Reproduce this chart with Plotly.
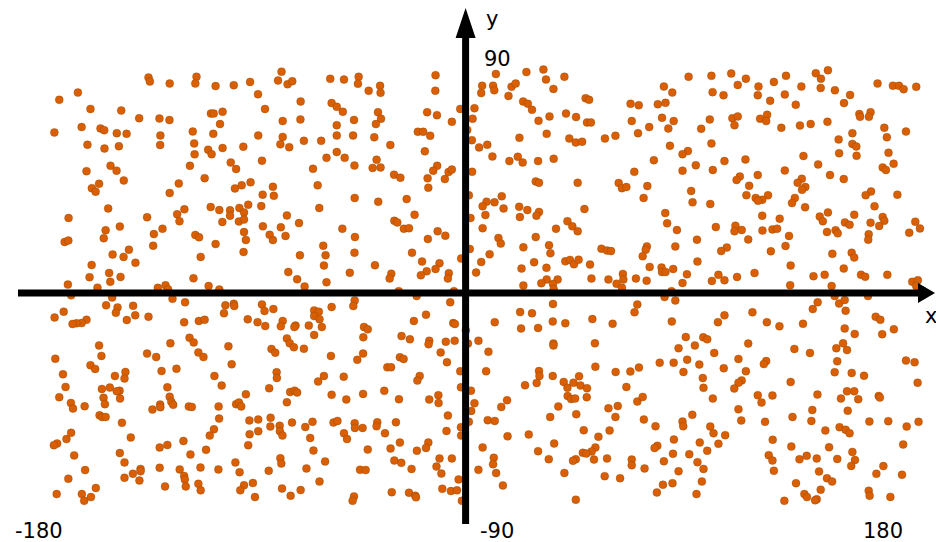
import plotly.graph_objects as go

# (longitude, latitude) pairs, grouped by region
upper_west = [
(-136.1,92.5),(-135.5,90.8),(-127,89.9),(-115.5,92.8),(-116,89.9),(-107.3,88.8),(-99.5,89.2),(-92.5,90.6),(-79,95),(-80.5,91.2),(-76.4,89.6),(-74.4,90.9),(-58.1,91.9),
(-174.4,82.9),(-166.4,86),(-161,79),(-147.8,78.3),(-140.1,75),(-131.4,74.9),(-127.1,74.2),(-109.3,77),(-108.1,77),(-104.3,77.8),(-89.1,85.3),(-86.1,79),(-70.8,82.2),(-57.5,81.5),(-55.3,79.9),(-70.9,74.5),(-78.5,73.8),(-105.4,72.5),
(-176.5,68.9),(-164.8,71.2),(-156.7,70.6),(-155.1,69.9),(-149.7,68.6),(-145.5,68.3),(-131,67.6),(-117.1,69.3),(-108.3,68.3),(-89,67.6),(-78.5,67),(-69.4,65.3),(-62,65.3),(-55.3,72),(-55.3,67.6),
(-162.3,63.6),(-155,62),(-148.8,63),(-131.1,63.5),(-116.5,64.2),(-110.5,61.5),(-109,59.6),(-116.3,59.5),(-104.3,62.2),(-95.4,62.8),(-79.5,63.8),(-75.7,62.6),(-55.3,60.5),(-59.7,58),(-87.4,56.8),(-100.8,56),(-98.5,53.2),(-118.3,54.6),(-65.5,53.3),
(-162.7,52.3),(-152.4,54.6),(-149.8,52.5),(-146.7,48.3),(-157.3,46.9),(-160.4,45),(-158.8,43.5),(-123.1,47),(-112,49.3),(-127,42.9),(-99,44.9),(-96.1,46.2),(-92.3,47.5),(-82.7,45.6),(-87.1,42.2),(-82.3,41.7),(-63.5,46.2),
(-153.4,36.3),(-109.4,36.9),(-105.7,35.6),(-101.1,35.5),(-101.1,33.2),(-97.1,36.5),(-95.1,34.6),(-93.3,37.9),(-87.7,37.3),(-120.7,35.9),(-123.8,33.8),(-122.8,30.8),(-62.8,36.5),(-170.4,32.2),(-136.7,32.5),(-76.7,33.3),(-71.5,30),(-104.4,30.5),(-97.3,30.7),(-95.1,31.5),
(-148.4,28.5),(-154.5,26.9),(-130.1,27.6),(-133.8,25.3),(-87,28.6),(-79.3,28.2),(-84.1,25),(-82.7,22.7),(-77.3,24.5),(-95.1,26.2),(-116,24.9),(-114.4,23.9),(-94.3,22.8),(-155.3,23.5),(-172.1,21.9),(-170.5,22.5),(-107.3,21),(-134.1,20.3),(-61.1,20.3),
(-144.5,18.6),(-151.5,16.5),(-146.8,15.5),(-95.3,17.6),(-71.1,16.2),(-60.1,16.2),(-113.7,15.5),(-141.7,13),(-160.5,12),(-60.8,11.8),(-153,8.6),(-161.4,6.8),(-148.1,6.9),(-76.1,9),(-116.8,6.3),(-72.3,5.9),(-152.5,4.8),(-59.7,4.6),(-170.7,3.6),(-158,2.3),(-128.8,3.3),(-132.1,2.2),(-127.7,1.6),(-110.3,3),(-105.7,1.5),(-69.1,2.8),
]
upper_middle = [
(-52.2,91.6),(-45.9,92.8),(-46.2,89.8),(-36.7,88.9),(-36.5,85.9),(-41.6,86.8),(-12.9,93.5),(-13,86.8),(-52.7,77.8),(-47.9,74.3),(-37.6,77.6),(-36.3,74.8),(-38.5,72.5),(-48.3,67.6),(-39.2,66.8),(-16.5,77.6),(-12.3,76.3),(-5.9,73.5),(-2.3,79),(-20.5,69.2),(-18.2,69.2),(-15.2,67.5),(-32.3,63.5),(-17.5,60.8),(-51.9,58),(-47.7,54.7),(-38.2,57.2),(-39.9,53.7),(-36.5,53.9),(-30.7,50.8),(-28,49.5),(-12.2,54.6),(-13.9,52.5),(-16.3,49.2),(-16,45.2),(-7.3,51.9),(-5.9,53),(-8.9,48.9),(-47.6,40.8),(-37.5,39.2),(-25.3,40.3),(-21.9,33.6),(-30.6,31),(-29.3,30.3),(-26.5,27.6),(-24.3,27.8),(-52.9,27.6),(-47.5,24),(-16.2,23.2),(-12,26.5),(-8.7,24.6),(-47.7,17.3),(-23,17.3),(-18.7,13.5),(-11.2,12.8),(-38.9,11.9),(-12.9,10.3),(-16.7,9.3),(-19.2,7.6),(-49.7,8.7),(-31.9,8.3),(-32.6,6.2),(-7.2,8.5),(-7.6,6.2),(-1.9,14.8),(-28.7,0.8),(-5,0.8),
(13,94),(26.1,94.8),(33.4,95.9),(42.4,92.8),(34.5,91.6),(37.7,87.6),(7.1,88.9),(6.7,85.8),(11.8,89),(12.3,87),(19.7,88.5),(21.5,89.9),(18.4,84.6),(24.7,82.2),(26.7,81.2),(28.5,78.6),(51.5,83.6),(53,82.9),(70.8,81.2),(74.3,80.6),(3.8,79.3),(3,74.8),(31.3,73.9),(36,75.8),(43.1,77),(47.4,75.5),(52.1,73.2),(53.8,73.2),(71.3,73.8),(0.7,70),(2.7,65.6),(5.8,62.5),(9.3,63.6),(23.1,66.6),(34.8,68.3),(44.5,66.3),(47.3,64.6),(50,64.9),(59.8,66.3),(64.3,67.5),(74,68.6),(11.5,58.6),(22.4,58.5),(18.8,56.6),(24.5,56),(31.1,56.6),(37.8,57.6),(2.8,52),(72.4,52),(30.1,47.9),(31.5,47.3),(48.1,47.3),(65.7,47.2),(67.1,45),(69,45.5),(1.4,41.9),(15.5,41.5),(9,39.2),(12.4,38.9),(7.3,37.2),(16.3,36.3),(23,37),(26.5,35.6),(31.5,34.8),(30.4,33.2),(51,36),(8.5,33.5),(2.1,32.2),(23.3,32.6),(43.7,30.8),(45.8,28.6),(48.1,26.5),(7.3,27.8),(38.8,27.6),(30.1,24),(14.1,23.6),(15.1,21.2),(35.8,20.5),(24.8,19.6),(1.8,18.9),(36.4,17.1),(10.3,16.6),(58.3,19),(60.7,18.2),(62.4,18),(42.8,13.6),(44.8,14.2),(46.5,12.3),(48.5,14.3),(53.4,12.2),(29.4,13.2),(6.7,13.3),(34.7,10.8),(24,10.5),(4.5,8.8),(67.5,8.2),(67.7,5.8),(54,6.2),(61.3,5.8),(64.8,4),(67.1,2.2),(73.1,6.2),(34.8,5.8),(39.5,5.8),(32.5,4.2),(37.5,3.9),(24.8,3.2),(37.8,1.6),
]
upper_east = [
(95.7,92.8),(105.5,93.2),(114,94.2),(120.3,92),(116.8,89.3),(125.7,88.6),(132.3,90.6),(137.5,93.2),(150.3,94.3),(155.5,95.6),(152.5,92),(144.1,88.6),(152.4,88),(158.5,87),(165,85),(176.8,89.9),(183.4,89),(186,88.9),(188,87.5),(193.4,88.5),(85.1,88.6),(88.7,86),(106,86.2),(110.7,84.9),(125.4,84.9),(137,85.2),(130.7,82.5),(141.7,80.8),(162.4,81.5),(82.5,81),(85.8,81.6),(169,76.8),(169.3,75.6),(173.8,77.6),(173.1,75.6),(84.3,75.2),(89.3,73.8),(104.8,74.5),(114.5,75),(116.8,75.8),(115.4,72),(126.4,74.8),(129.4,76.5),(129,73.8),(78.8,71.2),(87,70.6),(101.1,70.5),(135.5,70.9),(143.5,71.9),(148.1,72.5),(155.3,73.5),(179.7,70.9),(189,69.3),(166,68.6),(180.8,66.8),(160.1,65.9),(105.5,64.2),(87.7,63.2),(166,64),(167.7,62.9),(95.4,60.9),(93.1,59.6),(160.3,60),(181.5,60.2),(167.8,58.9),(145,58.8),(80.8,57),(111.1,56.6),(120.1,57.3),(183.7,55.5),(151.3,55.2),(98.8,54.8),(93.1,52.5),(106.1,52.8),(137,52.6),(179,53.9),(180.4,52.8),(125.4,50.6),(156.4,50.6),(162.3,48.9),(117.7,50),(116.3,48.5),(144.3,49),(142.5,47.3),(78,45.9),(121.7,46),(145.8,45.5),(144.4,44.3),(96.8,43.8),(174,43.6),(171.7,42),(185.3,42.2),(120.5,42),(129.8,41.9),(124.5,40.8),(127.3,40),(125.5,39.6),(141.3,40.8),(76.4,40.8),(140.1,38.6),(97.4,38.9),(105,38.2),(175.5,37.2),(145.7,36.8),(85.7,34.3),(155.5,34.6),(166.8,33.6),(127.3,33.2),(152,32.8),(179,32.6),(134.8,31.9),(153.3,30.8),(86.5,29.9),(162.8,30.3),(164.8,29.3),(173.8,30.2),(179.7,31),(193,30.6),(177.5,28.8),(115.8,28.9),(107.4,28.3),(90.7,27),(118.5,27),(115.4,26.5),(127.4,26.8),(131.7,27.3),(133.7,27.6),(195,27.7),(155.1,26.2),(158.8,26.9),(159.7,25.6),(190.4,25.9),(173,25.2),(172.8,22.9),(138.8,24.5),(99.3,22.9),(121.3,23),(137.3,20.2),(90,20),(77.8,20),(77.3,18.6),(112.1,19.5),(109.7,18),(131,17.9),(157.4,16.8),(165.7,17.3),(166.8,15.2),(76,15.8),(99.5,13.5),(79,11.2),(139.5,11.8),(162.3,10.5),(84.1,10.9),(84.3,9),(85.8,9),(89.1,10.3),(95,8),(124,8.6),(108.5,7.8),(116.5,6.9),(149.3,7.2),(154.1,7.8),(169.7,7.8),(171.5,7),(181,7.8),(105.7,5.2),(111.1,5.5),(77.7,5.3),(93.1,4.3),(139.3,3.3),(157.1,3),(191.7,4.8),(194.1,5.5),(193.4,3),(88.4,0.8),
]
lower_west = [
(-169.3,-1),(-151.7,-1.9),(-125.8,-2.5),(-120.4,-4),(-154.3,-5.3),(-149.4,-6.2),(-150.1,-8.5),(-142.7,-5.5),(-141.8,-9.6),(-145.4,-11.6),(-136.1,-10.2),(-172.5,-8),(-176.4,-10.5),(-162.7,-11.5),(-164.8,-12.9),(-167,-13),(-168.7,-13.3),(-120.8,-12.6),(-114.5,-12),(-112,-11.5),(-103.1,-5.3),(-99.5,-4.6),(-99.3,-5.6),(-103.7,-8.7),(-93.5,-11.3),(-89.3,-12.5),(-86,-14.2),(-87.4,-4.9),(-86.3,-7.7),(-82.5,-6.9),(-78.5,-12),(-79.3,-14.3),(-73,-14),(-73.5,-14.6),(-67.3,-14),(-65,-7.5),(-63,-8),(-65,-9.9),(-62.7,-11.3),(-61.7,-14.6),(-57.5,-6),(-65,-18),
(-118.5,-19.2),(-116.7,-21.2),(-126.7,-21.6),(-157.3,-22.5),(-101.8,-22.9),(-76.7,-19.5),(-75.5,-21.6),(-73.7,-23.3),(-69.4,-23.9),(-83.3,-24),(-81.7,-25.6),(-114.7,-25.5),(-112.5,-27.5),(-136.7,-26),(-132.8,-27.5),(-156.3,-27),(-57.8,-27),(-176.1,-28.2),(-100.4,-30.6),(-161,-31),(-159,-32.6),(-130.5,-33.5),(-124.1,-32.5),(-146,-33.9),(-150.5,-35.6),(-146.4,-36.7),(-172.8,-34.9),(-107.8,-35.6),(-81.1,-34),(-81,-36.5),(-60.8,-35.6),(-63.3,-38),
(-171.7,-40.3),(-104.7,-39.7),(-128,-40.5),(-156.1,-41.2),(-152.7,-40.6),(-148.5,-41.9),(-149.7,-42.2),(-84.3,-40.9),(-75.3,-42.5),(-73.4,-41.9),(-72.3,-42.7),(-94.3,-43.5),(-57.5,-43.7),(-174.4,-44.7),(-155.4,-45),(-148.3,-45.3),(-127,-44.5),(-169.4,-47.2),(-154.8,-47.7),(-126.3,-46.7),(-125.5,-48),(-76.7,-46.9),(-163.5,-48.6),(-168.5,-49.6),(-131.1,-47.9),(-131,-49),(-134.4,-50),(-118.8,-48.7),(-117.5,-48.9),(-106,-48.7),(-98.5,-47.7),(-97.3,-47),(-96.3,-48.7),
(-157.1,-52.5),(-156,-53.2),(-154.5,-53.2),(-147.5,-55.7),(-105.8,-53.9),(-92.8,-54.7),(-89,-54.3),(-83.7,-53.5),(-74.5,-55.6),(-65.7,-55.3),(-68.8,-57.5),(-56.7,-55.6),(-55,-54.9),(-83.8,-57.3),(-79.8,-57),(-79.7,-59.3),(-78.6,-61.2),(-89,-59.3),(-92.7,-60.6),(-108,-58.5),(-109.8,-61.2),(-169.3,-60),(-171.3,-62.7),(-175.3,-64.6),(-176.7,-65.3),(-143.7,-62),(-121.1,-63.5),(-66.7,-62.2),(-93.3,-65.3),(-128,-65.2),(-131.3,-66.3),(-111.4,-67.3),(-65.3,-67.6),
(-148.4,-68.7),(-168,-69.7),(-118.1,-69.3),(-79.5,-70.9),(-79.1,-73.2),(-146.4,-72.7),(-98.8,-72.7),(-60.3,-72.3),(-163.3,-76),(-113.8,-74.9),(-131.3,-75),(-122.7,-75.7),(-106.1,-75.7),(-139.5,-75.5),(-139.5,-76.5),(-142.8,-77.6),(-84.5,-76.3),(-68.3,-75.3),(-97,-76.9),(-120.8,-78.5),(-146.4,-79.3),(-170.5,-79.7),(-140,-80.5),(-120.5,-80),(-62.7,-80.9),(-91.3,-81.5),(-114.7,-81.9),(-95.1,-82.5),(-129,-83),(-120.1,-83),(-158.7,-83.7),(-78.8,-83.9),(-70.8,-84.6),(-113.7,-84.7),(-96.7,-84.7),(-175.5,-86.3),(-164.7,-86.3),(-160.8,-87.6),(-163.7,-89.2),(-90.4,-87.6),(-75.1,-87),
]
lower_middle = [
(-47.6,-3.2),(-48.2,-5.6),(-6.6,-4),(-21,-1.3),(-17,-9.3),(-22.2,-12),(-5.3,-12.9),(-4.6,-13.3),(-43.6,-14.6),(-42,-15.6),(-43.9,-19),(-27.5,-18.5),(-23.9,-19.9),(-15.6,-20.5),(-15.9,-22),(-8.5,-20.9),(-4.7,-20.5),(-10.7,-25.5),(-44,-26),(-46.5,-28.7),(-28.2,-27.6),(-26.6,-28.3),(-8,-29.7),(-33.6,-31.9),(-32,-31.9),(-2.3,-33.6),(-52.3,-35.9),(-19.7,-35.6),(-20.7,-37.6),(-2,-40.5),(-34.9,-42),(-44,-43.3),(-51.2,-45.7),(-28.6,-45.6),(-15.6,-45.7),(-11.7,-43.9),(-11.6,-47.2),(-7.6,-52.6),(-29.9,-55.5),(-37.9,-55.5),(-38.2,-57.2),(-47.6,-55.9),(-47.5,-57.9),(-44.2,-57.9),(-2,-57.6),(-1.9,-61.2),(-8.2,-59.2),(-34.6,-60.2),(-52.2,-60.2),(-50.9,-62.7),(-28.2,-64.2),(-16,-64.2),(-17,-66.5),(-20.9,-67.7),(-32.2,-66.7),(-42,-67.2),(-11.2,-71),(-5.9,-71),(-30.6,-71.9),(-27.6,-72.9),(-12.5,-74.5),(-23.2,-75.5),(-45.3,-75.9),(-42.9,-76),(-10.4,-77.5),(-3,-80),(-10,-84),(-6.3,-85),(-3.7,-84.7),(-31.7,-85.5),(-24.3,-85.7),(-21.6,-87),(-21.3,-87.7),(-47.9,-87.3),(-48.5,-89.2),(-1.6,-89.2),
(37.5,-4.7),(23.4,-8.2),(28.5,-8.7),(12.5,-12.5),(37.4,-12.2),(42.8,-13),(54.4,-11.2),(63.1,-13.2),(73.7,-4.9),(72.5,-8.3),(23.8,-15.2),(31.1,-15),(5.5,-20.5),(55.5,-21.6),(37.7,-21.7),(37.7,-22.5),(9.8,-25.2),(1,-21.7),(0.1,-16),(8.8,-33.6),(55.7,-31.6),(31.5,-33.5),(31.7,-35.6),(37.4,-35.6),(64.4,-33.9),(70.7,-33.7),(74.4,-32),(30.5,-38.6),(25.5,-39.6),(42.1,-38.2),(46.3,-38.5),(48.7,-35.7),(49.3,-39.7),(43.7,-40.7),(52.1,-40.9),(69,-40.3),(2.3,-41.9),(43.8,-44.2),(45.3,-45.5),(47,-45.3),(52,-44.7),(3.8,-47.3),(17.8,-46),(15.3,-48.9),(39.8,-48.7),(65.3,-48.5),(61.3,-49.5),(73.7,-46.6),(2.4,-50.6),(1.4,-55.3),(47.5,-52),(36.3,-53.2),(64.3,-53.2),(9.5,-54.6),(12.5,-54.9),(61.8,-59),(50.7,-58.9),(18,-61.5),(27.1,-60.7),(57,-61.7),(38,-64.6),(7.3,-66.3),(31.1,-67.9),(55.7,-66.3),(54.1,-68),(50.3,-68.6),(51.8,-68.9),(12.1,-70.7),(11.8,-73.5),(35.7,-71.3),(47.3,-71.3),(46.1,-72),(55.1,-71.5),(60.7,-71),(71.3,-71.5),(71.3,-73.9),(5.5,-75.9),(13.1,-77.3),(42.4,-77.2),(59.7,-78.6),(66.3,-79.5),(16,-82.6),(47.3,-88.7),
]
lower_east = [
(85.4,-1.7),(90,-3.2),(111.1,-9.6),(108.3,-12.5),(88.5,-12.2),(123.1,-8.3),(129.3,-12.5),(134.7,-14.3),(144.8,-13.2),(151.1,-4),(149,-6.9),(160.3,-4.5),(162.7,-3),(163.1,-7.6),(158.4,-1.3),(172.7,-1.3),(176,-10.2),(178,-11.5),(162.7,-15.2),(167,-17.6),(178.8,-17.7),(183.8,-15.6),(94.5,-18.9),(102,-19),(103.7,-19.9),(98.4,-22.5),(91.4,-23.7),(121.3,-21.7),(106.7,-25.7),(141.1,-24),(147.8,-25.7),(159.1,-23.7),(162,-21.6),(163.7,-24.5),(95.1,-28.6),(83.3,-29.9),(89.3,-29.9),(100.3,-30.7),(117.1,-28.3),(129,-29.2),(128,-30.5),(110.8,-32.3),(159.5,-29.3),(189,-29),(192.7,-29.7),(93.5,-33.9),(120.3,-33.6),(158.4,-34),(165.7,-34.3),(171,-35.5),(101.8,-36.5),(118.5,-37.5),(117.1,-38.5),(139.5,-38.2),(194,-38.5),(102.1,-40.7),(115.3,-41),(163.7,-42.2),(166.8,-42.2),(76,-44.6),(125.4,-43.9),(131.7,-44),(151,-43.6),(106.1,-45.3),(161.1,-45.3),(168.5,-45.6),(177.3,-44.2),(177.8,-44.9),(127,-47),(117.1,-49.9),(148.8,-50.2),(164,-50.5),(97.3,-52.3),(76.5,-54.3),(118.3,-54.7),(128.5,-55.3),(140.3,-53.2),(148.4,-54.9),(93.1,-55.2),(93.4,-57.2),(81.5,-57.2),(105,-57.3),(173.3,-55.2),(181.4,-55),(189.3,-57.3),(194.4,-55.3),(154.4,-59),(160.5,-57.6),(163.1,-58.7),(164.8,-60.2),(106.4,-60.2),(111.4,-61),(89.4,-62.9),(131.8,-63),(100.5,-64.2),(108.5,-64.7),(82.3,-65.6),(81.1,-66.5),(139.8,-65.9),(156,-66.2),(187.8,-65),(103.7,-67.7),(166,-68.2),(89,-69),(96,-69.2),(130.1,-69.6),(146.4,-69.9),(143.3,-71.4),(150.7,-71),(159.5,-71.2),(167.1,-71.7),(85.1,-72.2),(99.5,-72.6),(131.7,-71.9),(165.5,-74.2),(179.3,-74.3),(76.8,-75.3),(102.1,-75.5),(91.4,-76.5),(132.3,-76.3),(151.7,-76.6),(176.3,-77.6),(187.3,-78),(101.4,-80.9),(88.8,-81.6),(84.7,-82.3),(141.8,-81.6),(155.1,-79.5),(157.3,-80.9),(152.4,-84.4),(82.1,-85.6),(99.1,-86.3),(145.4,-86.3),(146.5,-87.6),(173,-84.9),(173.4,-87),(182.3,-87.5),(136.8,-89.2),(150.7,-88.5),(150,-89),
]
x_axis_labels = ["-180", "180"]
y_axis_labels = ["90", "-90"]

points = upper_west + upper_middle + upper_east + lower_west + lower_middle + lower_east
lon = [p[0] for p in points]
lat = [p[1] for p in points]

W, H = 936, 542
CX, CY, SCALE = 465.6, 293.0, 2.33
def dx(px):
    return (px - CX) / SCALE
def dy(py):
    return (CY - py) / SCALE

fig = go.Figure(go.Scatter(
    x=lon, y=lat, mode="markers", cliponaxis=False,
    marker=dict(size=8, color="#D95F02", line=dict(width=0.5, color="rgba(120,60,10,0.6)")),
    hoverinfo="skip", showlegend=False,
))

def seg(x0, y0, x1, y1):
    return dict(type="line", xref="x", yref="y", x0=dx(x0), y0=dy(y0), x1=dx(x1), y1=dy(y1),
                line=dict(color="black", width=7), layer="above")

shapes = [seg(18, CY, 920, CY), seg(CX, 524, CX, 36)]
shapes.append(dict(type="path", xref="x", yref="y", fillcolor="black", line=dict(width=0), layer="above",
    path=f"M{dx(455.6)},{dy(38)} L{dx(CX)},{dy(8)} L{dx(475.6)},{dy(38)} Z"))
shapes.append(dict(type="path", xref="x", yref="y", fillcolor="black", line=dict(width=0), layer="above",
    path=f"M{dx(918)},{dy(283)} L{dx(935)},{dy(293)} L{dx(918)},{dy(303)} Z"))

def label(text, px, py):
    return dict(text=text, x=dx(px), y=dy(py), xref="x", yref="y", showarrow=False,
                xanchor="center", yanchor="middle",
                font=dict(family="DejaVu Sans", size=21, color="black"))

annotations = [
    label(x_axis_labels[0], 38.5, 531), label(x_axis_labels[1], 883, 531),
    label(y_axis_labels[0], 497, 59), label(y_axis_labels[1], 497, 531),
    label("x", 931, 316), label("y", 492, 19),
]

fig.update_layout(
    width=W, height=H, margin=dict(l=0, r=0, t=0, b=0),
    paper_bgcolor="white", plot_bgcolor="white",
    xaxis=dict(range=[dx(0), dx(W)], visible=False, fixedrange=True),
    yaxis=dict(range=[dy(H), dy(0)], visible=False, fixedrange=True),
    shapes=shapes, annotations=annotations,
)
fig.write_html("out.html", config={"displayModeBar": False},
               post_script="document.body.style.margin='0';document.documentElement.style.overflow='hidden';")
